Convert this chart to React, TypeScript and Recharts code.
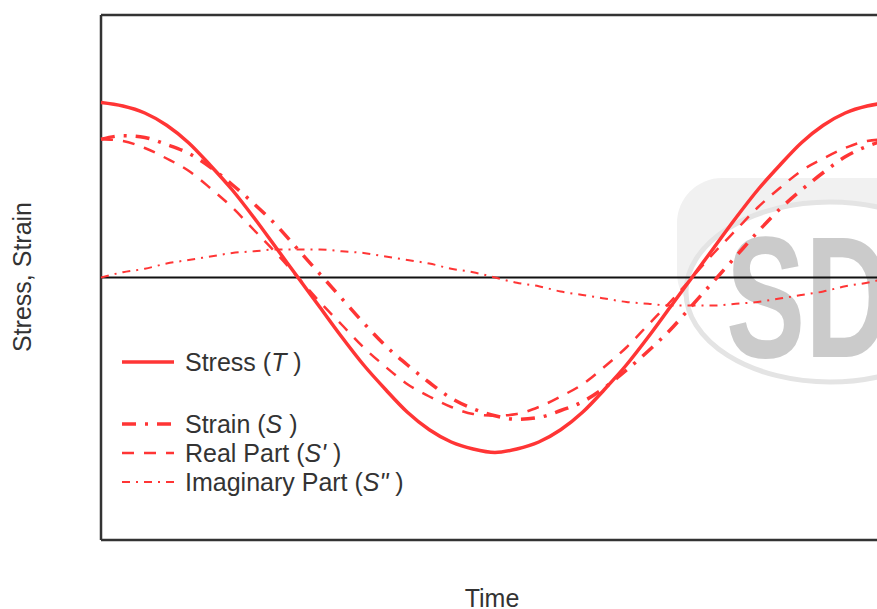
import React from "react";
import { LineChart, Line, XAxis, YAxis, ReferenceLine } from "recharts";

// phase angle (deg) across one cycle
const phase = [0, 10, 20, 30, 40, 50, 60, 70, 80, 90, 100, 110, 120, 130, 140, 150, 160, 170, 180,
  190, 200, 210, 220, 230, 240, 250, 260, 270, 280, 290, 300, 310, 320, 330, 340, 350, 360];

const stress = [1.0, 0.98, 0.94, 0.87, 0.77, 0.64, 0.5, 0.34, 0.17, 0.0, -0.17, -0.34, -0.5, -0.64, -0.77, -0.87, -0.94, -0.98, -1.0,
  -0.98, -0.94, -0.87, -0.77, -0.64, -0.5, -0.34, -0.17, 0.0, 0.17, 0.34, 0.5, 0.64, 0.77, 0.87, 0.94, 0.98, 1.0];

const strain = [0.79, 0.81, 0.8, 0.76, 0.71, 0.63, 0.53, 0.42, 0.3, 0.16, 0.02, -0.12, -0.26, -0.39, -0.5, -0.6, -0.69, -0.75, -0.79,
  -0.81, -0.8, -0.76, -0.71, -0.63, -0.53, -0.42, -0.3, -0.16, -0.02, 0.12, 0.26, 0.39, 0.5, 0.6, 0.69, 0.75, 0.79];

const realPart = [0.79, 0.78, 0.74, 0.68, 0.61, 0.51, 0.4, 0.27, 0.14, 0.0, -0.14, -0.27, -0.4, -0.51, -0.61, -0.68, -0.74, -0.78, -0.79,
  -0.78, -0.74, -0.68, -0.61, -0.51, -0.4, -0.27, -0.14, 0.0, 0.14, 0.27, 0.4, 0.51, 0.61, 0.68, 0.74, 0.78, 0.79];

const imagPart = [0.0, 0.03, 0.05, 0.08, 0.1, 0.12, 0.14, 0.15, 0.16, 0.16, 0.16, 0.15, 0.14, 0.12, 0.1, 0.08, 0.05, 0.03, 0.0,
  -0.03, -0.05, -0.08, -0.1, -0.12, -0.14, -0.15, -0.16, -0.16, -0.16, -0.15, -0.14, -0.12, -0.1, -0.08, -0.05, -0.03, 0.0];

const data = phase.map((t, i) => ({
  t,
  stress: stress[i],
  strain: strain[i],
  realPart: realPart[i],
  imagPart: imagPart[i],
}));

const RED = "#ff3535";
const INK = "#333333";
const FONT = "'Liberation Sans', Arial, sans-serif";

const series = [
  { key: "stress", label: "Stress (", sym: "T", tail: " )", width: 3.5, dash: undefined, top: 347 },
  { key: "strain", label: "Strain (", sym: "S", tail: " )", width: 3.5, dash: "14 9 3 9", top: 409 },
  { key: "realPart", label: "Real Part (", sym: "S'", tail: " )", width: 2.5, dash: "12 10", top: 438 },
  { key: "imagPart", label: "Imaginary Part (", sym: 'S"', tail: " )", width: 2, dash: "8 6 2 6", top: 467 },
];

// faint logo behind the plot (container coords, page minus 8px)
function Watermark() {
  return (
    <svg width={900} height={601} style={{ position: "absolute", left: 0, top: 0 }}>
      <rect x={669} y={170} width={260} height={140} rx={45} fill="#f1f1f1" />
      <ellipse cx={822} cy={284} rx={144} ry={90} fill="#ffffff" stroke="#e4e4e4" strokeWidth={5} />
      <text
        x={718}
        y={349}
        fill="#cbcbcb"
        fontFamily="'Liberation Sans Narrow', 'Liberation Sans', Arial, sans-serif"
        fontWeight="bold"
        fontSize={172}
        textLength={165}
        lengthAdjust="spacingAndGlyphs"
      >
        SD
      </text>
    </svg>
  );
}

export default function App() {
  return (
    <div
      style={{
        position: "fixed",
        left: 0,
        top: 0,
        width: 877,
        height: 609,
        overflow: "hidden",
        background: "#ffffff",
        fontFamily: FONT,
      }}
    >
      <div style={{ position: "absolute", left: 8, top: 8, width: 900, height: 601 }}>
        <Watermark />
        <div style={{ position: "absolute", left: 0, top: 0 }}>
          <LineChart width={900} height={601} data={data} margin={{ top: 7, right: 19, bottom: 69, left: 93 }}>
            <XAxis dataKey="t" type="number" domain={[0, 360]} hide />
            <YAxis type="number" domain={[-1.5, 1.5]} hide />
            <ReferenceLine y={1.5} stroke={INK} strokeWidth={2.5} />
            <ReferenceLine y={-1.5} stroke={INK} strokeWidth={2.5} />
            <ReferenceLine x={0} stroke={INK} strokeWidth={2.5} />
            <ReferenceLine y={0} stroke="#111111" strokeWidth={2} />
            {series.map((s) => (
              <Line
                key={s.key}
                dataKey={s.key}
                type="monotone"
                stroke={RED}
                strokeWidth={s.width}
                strokeDasharray={s.dash}
                dot={false}
                activeDot={false}
                isAnimationActive={false}
              />
            ))}
          </LineChart>
        </div>

        {/* legend */}
        {series.map((s) => (
          <div key={s.key} style={{ position: "absolute", left: 114, top: s.top - 8, height: 30, display: "flex", alignItems: "center" }}>
            <svg width={54} height={10} style={{ marginRight: 9 }}>
              <line x1={0} y1={5} x2={52} y2={5} stroke={RED} strokeWidth={s.width} strokeDasharray={s.dash} />
            </svg>
            <span style={{ fontSize: 25, color: INK, whiteSpace: "nowrap" }}>
              {s.label}
              <i>{s.sym}</i>
              {s.tail}
            </span>
          </div>
        ))}

        {/* axis titles */}
        <div
          style={{
            position: "absolute",
            left: 14,
            top: 269,
            transform: "translate(-50%, -50%) rotate(-90deg)",
            fontSize: 25,
            color: INK,
            whiteSpace: "nowrap",
          }}
        >
          Stress, Strain
        </div>
        <div
          style={{
            position: "absolute",
            left: 484,
            top: 590,
            transform: "translate(-50%, -50%)",
            fontSize: 25,
            color: INK,
            whiteSpace: "nowrap",
          }}
        >
          Time
        </div>
      </div>
    </div>
  );
}
